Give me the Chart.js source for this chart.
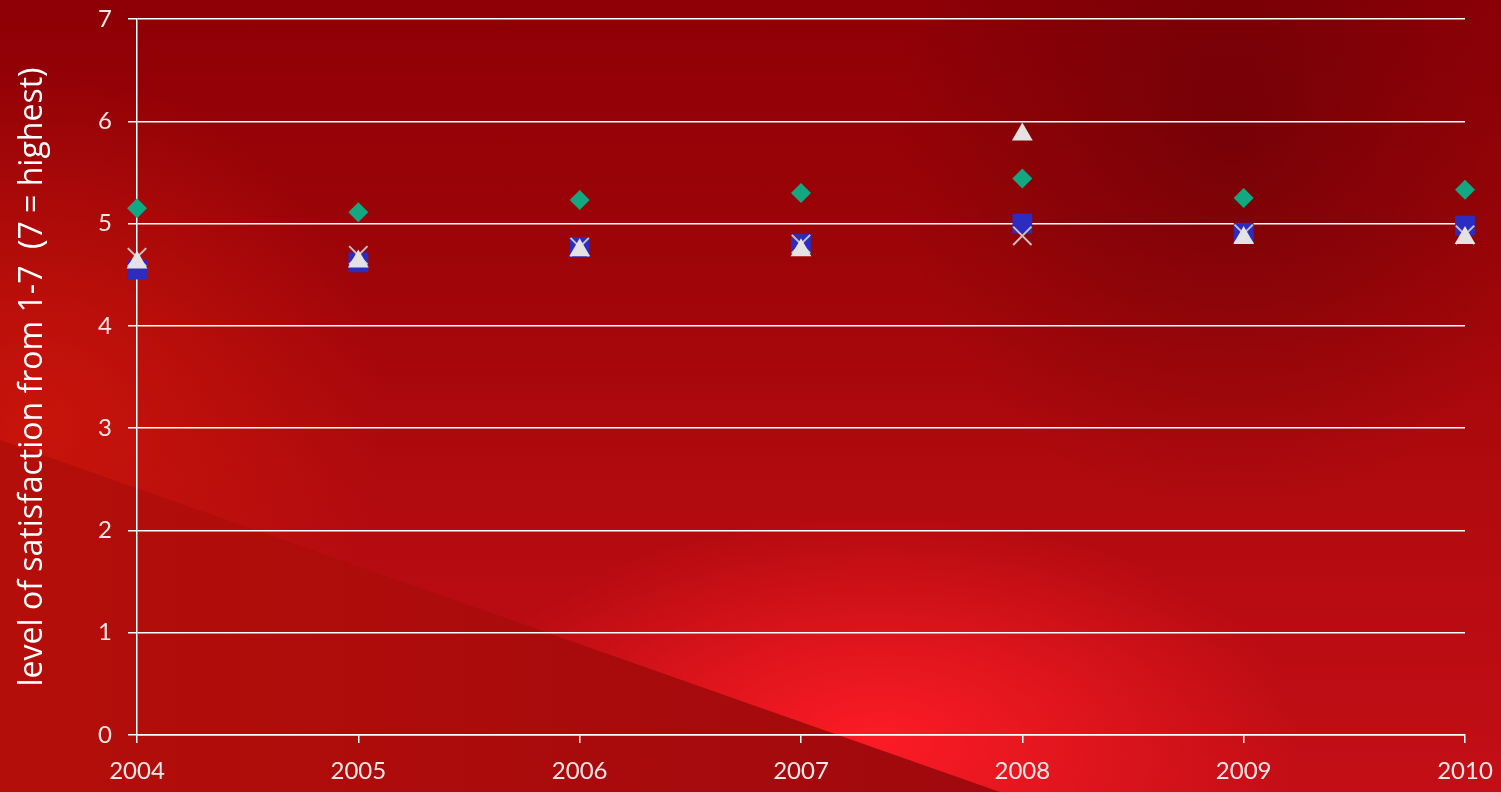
<!DOCTYPE html>
<html>
<head>
<meta charset="utf-8">
<script src="https://cdn.jsdelivr.net/npm/chart.js@4"></script>
<style>
    html, body { margin: 0; padding: 0; }
    body { width: 1501px; height: 792px; overflow: hidden; position: relative; }
    .bg {
        position: absolute; left: 0; top: 0; width: 1501px; height: 792px;
        background:
            radial-gradient(ellipse 420px 480px at 1230px 130px, rgba(80,0,6,0.45), rgba(80,0,6,0) 80%),
            radial-gradient(ellipse 560px 300px at 880px 740px, rgba(255,28,38,0.95), rgba(255,28,38,0) 75%),
            radial-gradient(ellipse 460px 460px at 40px 420px, rgba(205,22,10,0.85), rgba(205,22,10,0) 75%),
            linear-gradient(180deg, #8e0006 0%, #9c0408 30%, #b00a0e 60%, #c40e16 100%);
    }
    .band {
        position: absolute; left: 0; top: 0; width: 1501px; height: 792px;
        clip-path: polygon(0 440px, 1000px 792px, 0 792px);
        background: linear-gradient(90deg, #b40e0a 0%, #a60a0c 50%, #900612 100%);
    }
    canvas { position: absolute; left: 0; top: 0; }
</style>
</head>
<body>
<div class="bg"></div>
<div class="band"></div>
<canvas id="satChart" width="1501" height="792"></canvas>
<script>
const years = ['2004', '2005', '2006', '2007', '2008', '2009', '2010'];
const diamondSeries = [5.15, 5.11, 5.23, 5.30, 5.44, 5.25, 5.33];
const squareSeries = [4.55, 4.62, 4.77, 4.80, 5.00, 4.91, 4.98];
const triangleSeries = [4.62, 4.63, 4.74, 4.74, 5.87, 4.86, 4.86];
const crossSeries = [4.67, 4.69, 4.77, 4.80, 4.88, 4.90, 4.89];
const yTicks = [0, 1, 2, 3, 4, 5, 6, 7];

const FONT = 'Lato, "Open Sans", sans-serif';
const TEXT = '#f6e8e8';

const ctx = document.getElementById('satChart').getContext('2d');
new Chart(ctx, {
    type: 'line',
    data: {
        labels: years,
        datasets: [{
            label: 'Series 1',
            data: diamondSeries,
            showLine: false,
            pointStyle: 'rectRot',
            pointRadius: 10,
            backgroundColor: '#14a882',
            borderColor: '#14a882',
            borderWidth: 0,
            order: 3
        }, {
            label: 'Series 2',
            data: squareSeries,
            showLine: false,
            pointStyle: 'rect',
            pointRadius: 14,
            backgroundColor: '#2c2cc0',
            borderColor: '#2c2cc0',
            borderWidth: 0,
            order: 2
        }, {
            label: 'Series 3',
            data: triangleSeries,
            showLine: false,
            pointStyle: 'triangle',
            pointRadius: 12,
            backgroundColor: '#e4e2e2',
            borderColor: '#e4e2e2',
            borderWidth: 0,
            order: 0
        }, {
            label: 'Series 4',
            data: crossSeries,
            showLine: false,
            pointStyle: 'crossRot',
            pointRadius: 13,
            backgroundColor: '#c9c0c0',
            borderColor: '#c9c0c0',
            borderWidth: 2,
            order: 1
        }]
    },
    options: {
        responsive: false,
        animation: false,
        layout: { padding: { top: 19, right: 36, left: 0, bottom: 0 } },
        plugins: {
            legend: { display: false },
            tooltip: { enabled: false }
        },
        scales: {
            x: {
                offset: false,
                grid: { display: true, drawOnChartArea: false, drawTicks: true, tickLength: 8, color: '#ffffff', lineWidth: 1.5 },
                border: { display: true, color: '#ffffff', width: 1.5 },
                ticks: { color: TEXT, font: { family: FONT, size: 24 }, padding: 14, maxRotation: 0, autoSkip: false },
                afterFit: (s) => { s.height = 57; s.paddingLeft = 0; s.paddingRight = 0; }
            },
            y: {
                min: 0,
                max: 7,
                afterBuildTicks: (s) => { s.ticks = yTicks.map(v => ({ value: v })); },
                grid: { color: '#ffffff', lineWidth: 1.5, tickLength: 9 },
                border: { display: true, color: '#ffffff', width: 1.5 },
                ticks: { color: TEXT, font: { family: FONT, size: 24 }, padding: 16 },
                title: {
                    display: true,
                    text: 'level of satisfaction from 1-7  (7 = highest)',
                    color: '#ffffff',
                    font: { family: '"Open Sans", sans-serif', size: 32 },
                    padding: { top: 14, bottom: 0 }
                },
                afterFit: (s) => { s.width = 137; s.paddingTop = 0; s.paddingBottom = 0; }
            }
        }
    }
});
</script>
</body>
</html>
